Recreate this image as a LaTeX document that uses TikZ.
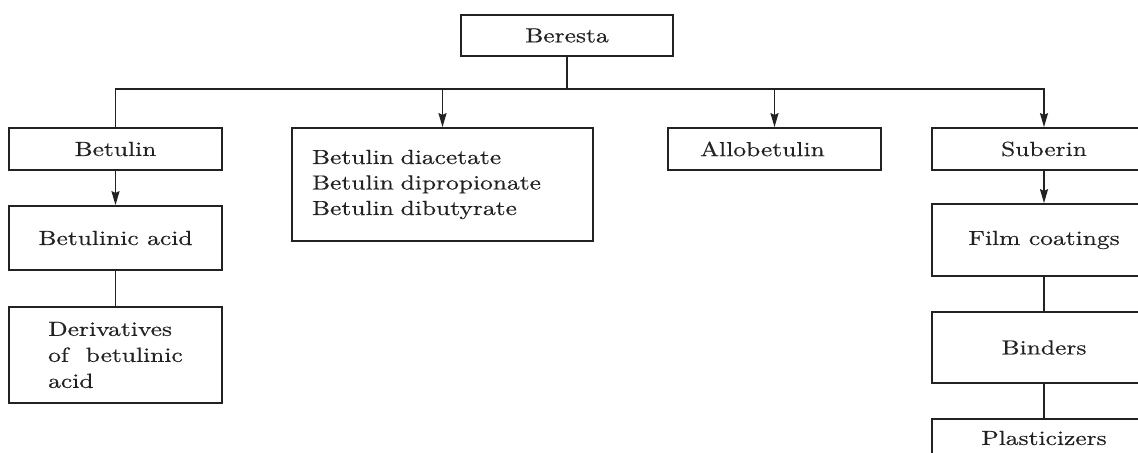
\documentclass[tikz,border=0pt]{standalone}
\usepackage{fontspec}
\setmainfont{lmroman10-regular}[Extension=.otf, FakeStretch=1.25, FakeBold=0.5]
\usetikzlibrary{arrows.meta}
\definecolor{ink}{HTML}{222222}
\tikzset{
  box/.style={draw=ink, line width=0.85pt, text=ink, inner sep=0pt, font=\fontsize{10.2}{12.75}\selectfont},
  link/.style={draw=ink, line width=0.85pt},
  arr/.style={link, -{Stealth[length=7pt,width=4pt,inset=0.9pt]}}
}
\begin{document}
\begin{tikzpicture}[x=0.5pt, y=-0.5pt]
\clip (0,0) rectangle (1138,453);
% nodes
\node[box, minimum width=106pt, minimum height=20.5pt] (beresta) at (567,35.5) {Beresta};
\node[box, minimum width=106.5pt, minimum height=21pt] (betulin) at (115.5,149) {Betulin};
\node[box, minimum height=56.5pt, text width=130.5pt, inner xsep=10pt, align=left] (esters) at (442.5,184.5)
  {Betulin diacetate\\Betulin dipropionate\\Betulin dibutyrate};
\node[box, minimum height=21pt, text width=74.5pt, inner xsep=16pt, align=left] (allo) at (774.5,149) {Allobetulin};
\node[box, minimum width=112pt, minimum height=21pt] (suberin) at (1044,149) {Suberin};
\node[box, minimum width=106.5pt, minimum height=32pt] (betacid) at (115.5,238) {Betulinic acid};
\node[box, minimum width=106.5pt, minimum height=48pt, align=left, font=\fontsize{10.2}{13}\selectfont] (deriv) at (115.5,355)
  {Derivatives\\of\ \ betulinic\\acid};
\node[box, minimum width=112pt, minimum height=36pt] (film) at (1044,240) {Film coatings};
\node[box, minimum width=112pt, minimum height=35.5pt] (binders) at (1044,347.5) {Binders};
\node[box, minimum width=112pt, minimum height=19pt] (plast) at (1044,438) {Plasticizers};
% connectors
\coordinate (bus) at (567,89);
\draw[link] (beresta.south) -- (bus);
\draw[link] (betulin.north) |- (bus);
\draw[arr] (bus) -| (suberin.north);
\draw[arr] (esters.north |- bus) -- (esters.north);
\draw[arr] (allo.north |- bus) -- (allo.north);
\draw[arr] (betulin.south) -- (betacid.north);
\draw[link] (betacid.south) -- (deriv.north);
\draw[arr] (suberin.south) -- (film.north);
\draw[link] (film.south) -- (binders.north);
\draw[link] (binders.south) -- (plast.north);
\end{tikzpicture}
\end{document}
